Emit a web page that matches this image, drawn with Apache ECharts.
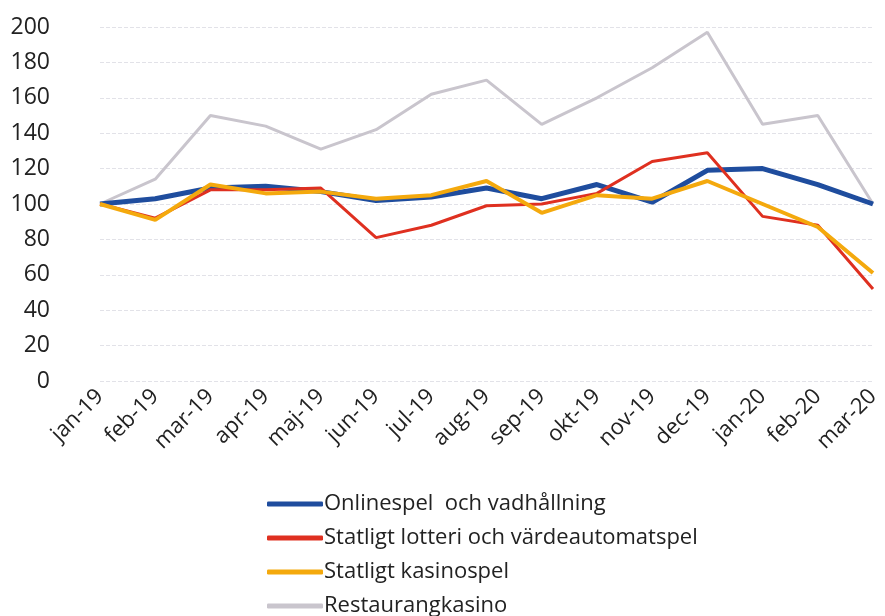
<!DOCTYPE html>
<html>
<head>
<meta charset="utf-8">
<script src="https://cdn.jsdelivr.net/npm/echarts@6/dist/echarts.min.js"></script>
<style>
  html, body { margin: 0; padding: 0; background: #fff; }
  #chart { width: 885px; height: 616px; }
</style>
</head>
<body>
<div id="chart"></div>
<script>
const months = ['jan-19', 'feb-19', 'mar-19', 'apr-19', 'maj-19', 'jun-19', 'jul-19', 'aug-19',
    'sep-19', 'okt-19', 'nov-19', 'dec-19', 'jan-20', 'feb-20', 'mar-20'];

const online = [100, 103, 109, 110, 107, 102, 104, 109, 103, 111, 101, 119, 120, 111, 100];
const lotteri = [100, 92, 108, 108, 109, 81, 88, 99, 100, 106, 124, 129, 93, 88, 52];
const kasino = [100, 91, 111, 106, 107, 103, 105, 113, 95, 105, 103, 113, 100, 87, 61];
const restaurang = [100, 114, 150, 144, 131, 142, 162, 170, 145, 160, 177, 197, 145, 150, 100];

const seriesNames = [
    'Onlinespel  och vadhållning',
    'Statligt lotteri och värdeautomatspel',
    'Statligt kasinospel',
    'Restaurangkasino'
];

const font = '"Open Sans", "Noto Sans", sans-serif';

const chart = echarts.init(document.getElementById('chart'), null, { renderer: 'canvas' });

const line = (name, data, color, width, z) => ({
    name: name,
    type: 'line',
    data: data,
    showSymbol: false,
    symbol: 'none',
    z: z,
    lineStyle: { color: color, width: width },
    itemStyle: { color: color }
});

chart.setOption({
    animation: false,
    grid: { left: 100, right: 12, top: 27, bottom: 235 },
    xAxis: {
        type: 'category',
        data: months,
        boundaryGap: false,
        axisLine: { show: false },
        axisTick: { show: false },
        axisLabel: {
            rotate: 45,
            margin: 12,
            color: '#222',
            fontSize: 22,
            fontFamily: font
        }
    },
    yAxis: {
        type: 'value',
        min: 0,
        max: 200,
        interval: 20,
        axisLine: { show: false },
        axisTick: { show: false },
        axisLabel: {
            margin: 50,
            color: '#222',
            fontSize: 23,
            fontFamily: font
        },
        splitLine: { lineStyle: { color: '#e2e2e8', type: 'dashed', width: 1 } }
    },
    legend: {
        orient: 'vertical',
        left: 262,
        top: 488,
        height: 130,
        itemWidth: 56,
        itemHeight: 5,
        itemGap: 12,
        icon: 'roundRect',
        textStyle: { color: '#222', fontSize: 22, fontFamily: font, padding: [0, 0, 0, -4] },
        data: seriesNames
    },
    series: [
        line(seriesNames[3], restaurang, '#c9c5cd', 3, 1),
        line(seriesNames[0], online, '#1f4d9e', 5, 2),
        line(seriesNames[1], lotteri, '#df3020', 3, 3),
        line(seriesNames[2], kasino, '#f4a90d', 4, 4)
    ]
});
</script>
</body>
</html>
